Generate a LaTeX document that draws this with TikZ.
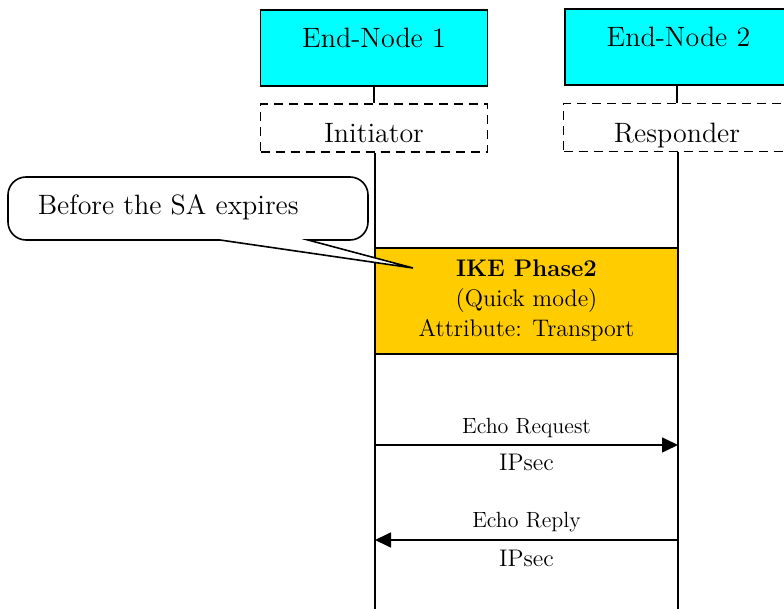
\documentclass[tikz,border=0pt]{standalone}
\usetikzlibrary{arrows.meta}
\definecolor{nodecyan}{RGB}{0,255,255}
\definecolor{ikeorange}{RGB}{255,204,0}
\begin{document}
\begin{tikzpicture}[x=0.5pt,y=-0.5pt,line width=0.8pt,
  big/.style={font=\fontsize{14}{16}\selectfont},
  endnode/.style={draw,fill=nodecyan,big,minimum width=113.5pt,inner sep=0pt,text height=19pt,text depth=19pt},
  role/.style={draw,dash pattern=on 4.5pt off 3pt,big,minimum width=113.5pt,inner sep=0pt,text height=19.5pt,text depth=4.5pt},
  msg/.style={-{Triangle[length=8pt,width=7.5pt]}},
  small/.style={font=\fontsize{11}{13}\selectfont,inner sep=0pt,anchor=base},
  mid/.style={font=\fontsize{12}{15}\selectfont,inner sep=0pt,anchor=base}]
\useasboundingbox (0,0) rectangle (784,609);
\clip (0,0) rectangle (784,609);

\node[endnode] (en1) at (374,48) {End-Node 1};
\node[endnode] (en2) at (678.5,47) {End-Node 2};
\node[role] (init) at (374,128) {Initiator};
\node[role] (resp) at (677,127.5) {Responder};
\draw (en1.south) -- (init.north);
\draw (en2.south -| resp.north) -- (resp.north);

\coordinate (init-end) at (375,609);
\coordinate (resp-end) at (678,609);
\draw (init.south -| init-end) -- (init-end);
\draw (resp.south -| resp-end) -- (resp-end);

\node[draw,fill=ikeorange,minimum width=151.75pt,minimum height=53pt,
  align=center,font=\fontsize{12}{15}\selectfont] (ike) at (526.5,301)
  {{\bfseries IKE Phase2}\\(Quick mode)\\Attribute: Transport};

\coordinate (req-s) at (375,445);
\coordinate (req-e) at (678,445);
\coordinate (rep-s) at (678,540);
\coordinate (rep-e) at (375,540);
\draw[msg] (req-s) -- (req-e)
  node[small,midway,yshift=5.5pt] {Echo Request}
  node[mid,midway,yshift=-13pt] {IPsec};
\draw[msg] (rep-s) -- (rep-e)
  node[small,midway,yshift=6pt] {Echo Reply}
  node[mid,midway,yshift=-13.5pt] {IPsec};

\draw[fill=white] (220,240) -- (413,268) -- (308,240) [rounded corners=9pt] -- (368,240) -- (368,177)
  -- (8,177) -- (8,240) [sharp corners] -- cycle;
\node[big,inner sep=0pt,anchor=base west] (note) at (37,215) {Before the SA expires};
\end{tikzpicture}
\end{document}
